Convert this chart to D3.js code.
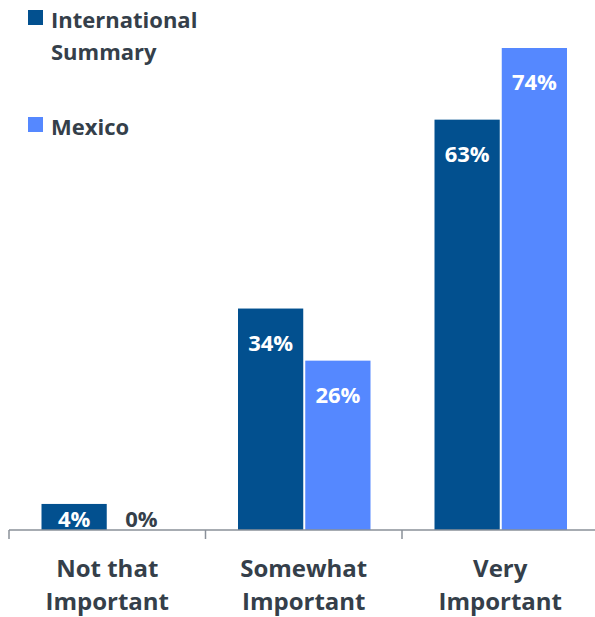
<!DOCTYPE html>
<html>
<head>
<meta charset="utf-8">
<script src="https://cdn.jsdelivr.net/npm/d3@7"></script>
<style>
  body { margin: 0; background: #fff; }
  svg { display: block; font-family: "Open Sans", sans-serif; font-weight: bold; }
</style>
</head>
<body>
<svg id="chart" width="595" height="617"></svg>
<script>
// Data kategori dan seri
const categories = ["Not that Important", "Somewhat Important", "Very Important"];
const categoryLines = [["Not that", "Important"], ["Somewhat", "Important"], ["Very", "Important"]];
const seriesNames = ["International Summary", "Mexico"];
const international = [4, 34, 63];
const mexico = [0, 26, 74];

const colors = ["#02508f", "#5588ff"];
const textColor = "#353f4a";

const svg = d3.select("#chart");
const baseline = 530;

// Skala
const x = d3.scaleBand()
    .domain(categories)
    .range([9, 598.5])
    .paddingInner(0)
    .paddingOuter(0);

const xs = d3.scaleBand()
    .domain(seriesNames)
    .range([32.5, x.bandwidth() - 31.5])
    .paddingInner(0.03);

const y = d3.scaleLinear()
    .domain([0, 74])
    .range([baseline, 48]);

const rows = categories.map((c, i) => ({ cat: c, values: [international[i], mexico[i]] }));

// Batang
const groups = svg.selectAll(".group")
    .data(rows)
    .enter().append("g")
    .attr("class", "group")
    .attr("transform", d => `translate(${x(d.cat)},0)`);

groups.selectAll("rect")
    .data(d => d.values.map((v, k) => ({ v, k })))
    .enter().append("rect")
    .attr("x", d => xs(seriesNames[d.k]))
    .attr("width", xs.bandwidth())
    .attr("y", d => y(d.v))
    .attr("height", d => baseline - y(d.v))
    .attr("fill", d => colors[d.k]);

// Label nilai
groups.selectAll("text.val")
    .data(d => d.values.map((v, k) => ({ v, k })))
    .enter().append("text")
    .attr("class", "val")
    .attr("x", d => xs(seriesNames[d.k]) + xs.bandwidth() / 2)
    .attr("y", d => Math.min(y(d.v) + 42, baseline - 3))
    .attr("text-anchor", "middle")
    .attr("font-size", 22)
    .attr("fill", d => d.v === 0 ? textColor : "#fff")
    .text(d => d.v + "%");

// Sumbu X
const axis = svg.append("g")
    .attr("transform", `translate(0,${baseline})`)
    .call(d3.axisBottom(x).tickSize(0).tickFormat(""));
axis.select(".domain").attr("stroke", "#8a9099").attr("stroke-width", 1.5)
    .attr("d", `M${x.range()[0]},0H595`);
axis.selectAll(".tick").remove();

const tickPos = categories.map(c => x(c)).concat([x.range()[1]]);
svg.selectAll(".tickline")
    .data(tickPos)
    .enter().append("line")
    .attr("x1", d => d).attr("x2", d => d)
    .attr("y1", baseline).attr("y2", baseline + 9)
    .attr("stroke", "#8a9099")
    .attr("stroke-width", 1.5);

// Label kategori
const catText = svg.selectAll(".cat")
    .data(categories)
    .enter().append("text")
    .attr("class", "cat")
    .attr("text-anchor", "middle")
    .attr("font-size", 24)
    .attr("fill", textColor);

catText.selectAll("tspan")
    .data((d, i) => categoryLines[i].map(t => ({ t, c: d })))
    .enter().append("tspan")
    .attr("x", d => x(d.c) + x.bandwidth() / 2)
    .attr("y", (d, j) => 577 + j * 33)
    .text(d => d.t);

// Legenda
const legendLines = [["International", "Summary"], ["Mexico"]];
const legendY = [10, 117];
const legend = svg.selectAll(".legend")
    .data(seriesNames)
    .enter().append("g")
    .attr("class", "legend")
    .attr("transform", (d, i) => `translate(28,${legendY[i]})`);

legend.append("rect")
    .attr("width", 15)
    .attr("height", 15)
    .attr("fill", (d, i) => colors[i]);

legend.append("text")
    .attr("font-size", 22)
    .attr("fill", textColor)
    .selectAll("tspan")
    .data((d, i) => legendLines[i])
    .enter().append("tspan")
    .attr("x", 23)
    .attr("y", (d, j) => 18 + j * 32)
    .text(d => d);
</script>
</body>
</html>
